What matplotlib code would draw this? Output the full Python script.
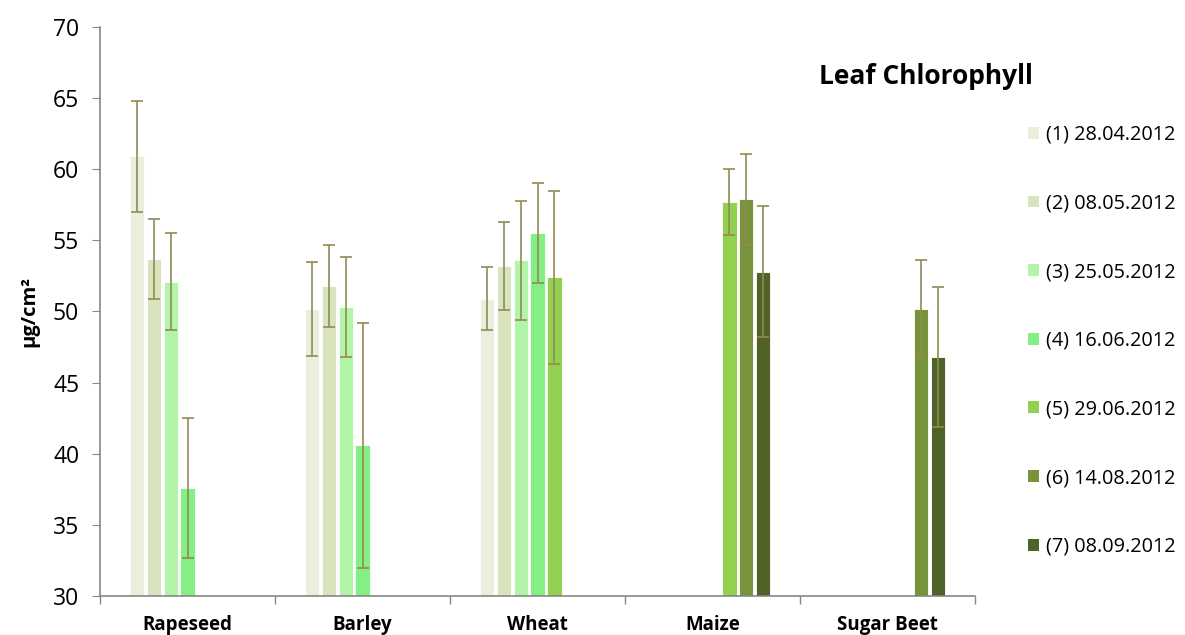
import numpy as np
import matplotlib.pyplot as plt
from matplotlib.patches import Patch

plt.rcParams['font.family'] = ['Open Sans', 'DejaVu Sans']

crops = ['Rapeseed', 'Barley', 'Wheat', 'Maize', 'Sugar Beet']
dates = ['(1) 28.04.2012', '(2) 08.05.2012', '(3) 25.05.2012', '(4) 16.06.2012',
         '(5) 29.06.2012', '(6) 14.08.2012', '(7) 08.09.2012']
colors = ['#EAEFDD', '#D8E4BE', '#B3F5A8', '#84EF84', '#92D050', '#77933C', '#4F6228']

# mean chlorophyll per date (rows) and crop (columns), nan = not measured
means = np.array([
    [60.9, 50.2, 50.9, np.nan, np.nan],
    [53.7, 51.8, 53.2, np.nan, np.nan],
    [52.1, 50.3, 53.6, np.nan, np.nan],
    [37.6, 40.6, 55.5, np.nan, np.nan],
    [np.nan, np.nan, 52.4, 57.7, np.nan],
    [np.nan, np.nan, np.nan, 57.9, 50.2],
    [np.nan, np.nan, np.nan, 52.8, 46.8],
])
errs = np.array([
    [3.9, 3.3, 2.2, 0, 0],
    [2.8, 2.9, 3.1, 0, 0],
    [3.4, 3.5, 4.2, 0, 0],
    [4.9, 8.6, 3.5, 0, 0],
    [0, 0, 6.1, 2.3, 0],
    [0, 0, 0, 3.2, 3.4],
    [0, 0, 0, 4.6, 4.9],
])

fig = plt.figure(figsize=(11.85, 6.35), dpi=100)
ax = fig.add_axes([0.0844, 0.0614, 0.7384, 0.8961])

x = np.arange(len(crops))
step = 0.0966
width = 0.081
for j in range(len(dates)):
    m = ~np.isnan(means[j])
    xs = x[m] + (j - 3) * step
    ax.bar(xs, means[j][m] - 30, width, bottom=30, color=colors[j],
           edgecolor='white', linewidth=0.6, zorder=2)
    ax.errorbar(xs, means[j][m], yerr=errs[j][m], fmt='none', ecolor='#948A54',
                elinewidth=1.2, capsize=4, capthick=1.2, zorder=3)

ax.set_xlim(-0.5, 4.5)
ax.set_ylim(30, 70)
ax.set_yticks(np.arange(30, 71, 5))
ax.set_xticks(x)
ax.set_xticklabels(crops, fontweight='bold', fontsize=13.5)
ax.set_xticks(np.arange(-0.5, 4.6, 1), minor=True)
ax.tick_params(axis='x', which='major', length=0, pad=14)
ax.tick_params(axis='x', which='minor', length=6, color='#868686', width=1)
ax.tick_params(axis='y', labelsize=16.5, length=6, color='#868686', pad=9)
for s in ['top', 'right']:
    ax.spines[s].set_visible(False)
for s in ['left', 'bottom']:
    ax.spines[s].set_color('#868686')
    ax.spines[s].set_linewidth(1.2)

ax.set_ylabel('µg/cm²', fontweight='bold', fontsize=14.5, labelpad=10)

fig.text(0.781, 0.879, 'Leaf Chlorophyll', fontweight='bold', fontsize=19,
         ha='center', va='center')

handles = [Patch(facecolor=c) for c in colors]
fig.legend(handles, dates, loc='upper left', bbox_to_anchor=(0.859, 0.819),
           frameon=False, fontsize=14.3, handlelength=0.55, handleheight=0.55,
           handletextpad=0.35, labelspacing=2.45, borderpad=0)

fig.savefig('out.png', dpi=100)
